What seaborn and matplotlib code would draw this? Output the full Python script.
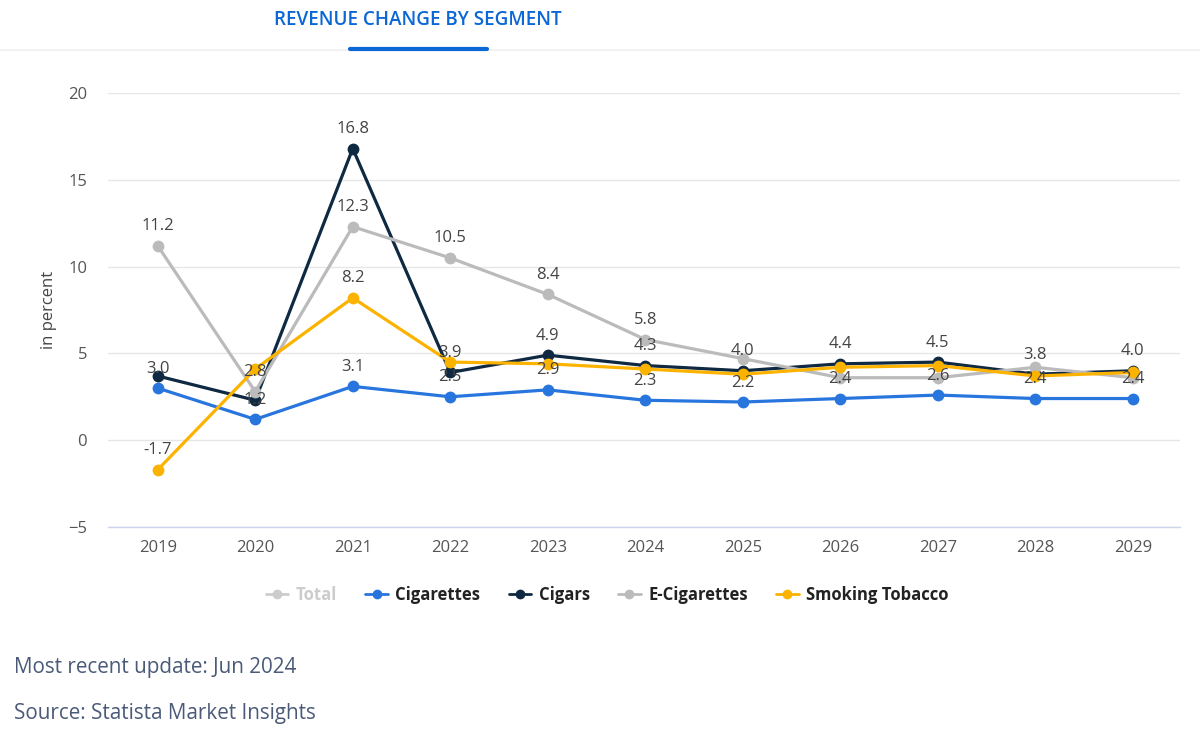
import matplotlib
matplotlib.use("Agg")
import matplotlib.pyplot as plt
import pandas as pd
import seaborn as sns
from matplotlib.lines import Line2D

years = list(range(2019, 2030))
cigarettes = [3.0, 1.2, 3.1, 2.5, 2.9, 2.3, 2.2, 2.4, 2.6, 2.4, 2.4]
cigars = [3.7, 2.3, 16.8, 3.9, 4.9, 4.3, 4.0, 4.4, 4.5, 3.8, 4.0]
e_cigarettes = [11.2, 2.8, 12.3, 10.5, 8.4, 5.8, 4.7, 3.6, 3.6, 4.2, 3.6]
smoking_tobacco = [-1.7, 4.1, 8.2, 4.5, 4.4, 4.1, 3.8, 4.2, 4.3, 3.7, 3.9]

# years whose data label is visible in the reference (others hidden by overlap)
labeled_years = {
    'Cigarettes': years,
    'Cigars': [2021, 2022, 2023, 2024, 2025, 2026, 2027, 2028, 2029],
    'E-Cigarettes': [2019, 2020, 2021, 2022, 2023, 2024],
    'Smoking Tobacco': [2019, 2021],
}

series = ['Cigarettes', 'Cigars', 'E-Cigarettes', 'Smoking Tobacco']
colors = {
    'Total': '#cccccc',
    'Cigarettes': '#2876dd',
    'Cigars': '#0f2942',
    'E-Cigarettes': '#bbbbbb',
    'Smoking Tobacco': '#fcb300',
}

df = pd.DataFrame({
    'Year': years,
    'Cigarettes': cigarettes,
    'Cigars': cigars,
    'E-Cigarettes': e_cigarettes,
    'Smoking Tobacco': smoking_tobacco,
})
d = df.melt(id_vars='Year', var_name='Segment', value_name='Change')

sns.set_theme(style='white')
plt.rcParams['font.family'] = ['Open Sans', 'DejaVu Sans']

fig = plt.figure(figsize=(12, 7.44), dpi=100)
ax = fig.add_axes([0.09, 1 - 527 / 744, 0.893, (527 - 93) / 744])

sns.lineplot(
    data=d, x='Year', y='Change', hue='Segment', hue_order=series,
    palette=colors, marker='o', markersize=8.5, markeredgewidth=0,
    linewidth=2.3, legend=False, ax=ax
)

# data labels
for s in series:
    for y, v in zip(years, df[s]):
        if y in labeled_years[s]:
            ax.annotate(f'{v:.1f}', (y, v), xytext=(0, 14), textcoords='offset points',
                        ha='center', va='center', fontsize=12, color='#444444')

ax.set_xlim(2018.49, 2029.48)
ax.set_ylim(-5, 20)
ax.set_yticks([-5, 0, 5, 10, 15, 20])
ax.set_xticks(years)
ax.set_xticklabels([str(y) for y in years])
ax.yaxis.grid(True, color='#e6e6e6', linewidth=1)
ax.xaxis.grid(False)
for side in ['top', 'right', 'left']:
    ax.spines[side].set_visible(False)
ax.spines['bottom'].set_color('#ccd6eb')
ax.spines['bottom'].set_linewidth(1)
ax.tick_params(axis='both', length=0, labelsize=12, labelcolor='#555555')
ax.tick_params(axis='y', pad=15)
ax.tick_params(axis='x', pad=9)
ax.set_xlabel('')
ax.set_ylabel('in percent', fontsize=12, color='#444444', labelpad=8)

# legend
handles = [Line2D([], [], color=colors['Total'], marker='o', markersize=6, linewidth=2)]
labels = ['Total']
for s in series:
    handles.append(Line2D([], [], color=colors[s], marker='o', markersize=6, linewidth=2))
    labels.append(s)
leg = fig.legend(handles, labels, loc='center', bbox_to_anchor=(0.506, 1 - 595 / 744),
                 ncol=5, frameon=False, fontsize=12, handlelength=1.35,
                 handletextpad=0.45, columnspacing=1.7)
for t in leg.get_texts():
    t.set_fontweight('bold')
    t.set_color('#222222')
leg.get_texts()[0].set_color('#cccccc')

# header tab
fig.text(418 / 1200, 1 - 20 / 744, 'REVENUE CHANGE BY SEGMENT', ha='center', va='center',
         fontsize=13.6, fontweight='semibold', color='#0b66d6')
fig.add_artist(Line2D([0, 1], [1 - 50 / 744] * 2, color='#f0f0f0', linewidth=1.2))
fig.add_artist(Line2D([350 / 1200, 487 / 1200], [1 - 49 / 744] * 2, color='#0b66d6',
                      linewidth=3, solid_capstyle='round'))

# footer
fig.text(14 / 1200, 1 - 667 / 744, 'Most recent update: Jun 2024', ha='left', va='center',
         fontsize=14.9, color='#4a5a78')
fig.text(14 / 1200, 1 - 714 / 744, 'Source: Statista Market Insights', ha='left', va='center',
         fontsize=14.9, color='#4a5a78')

fig.savefig('out.png', dpi=100)
